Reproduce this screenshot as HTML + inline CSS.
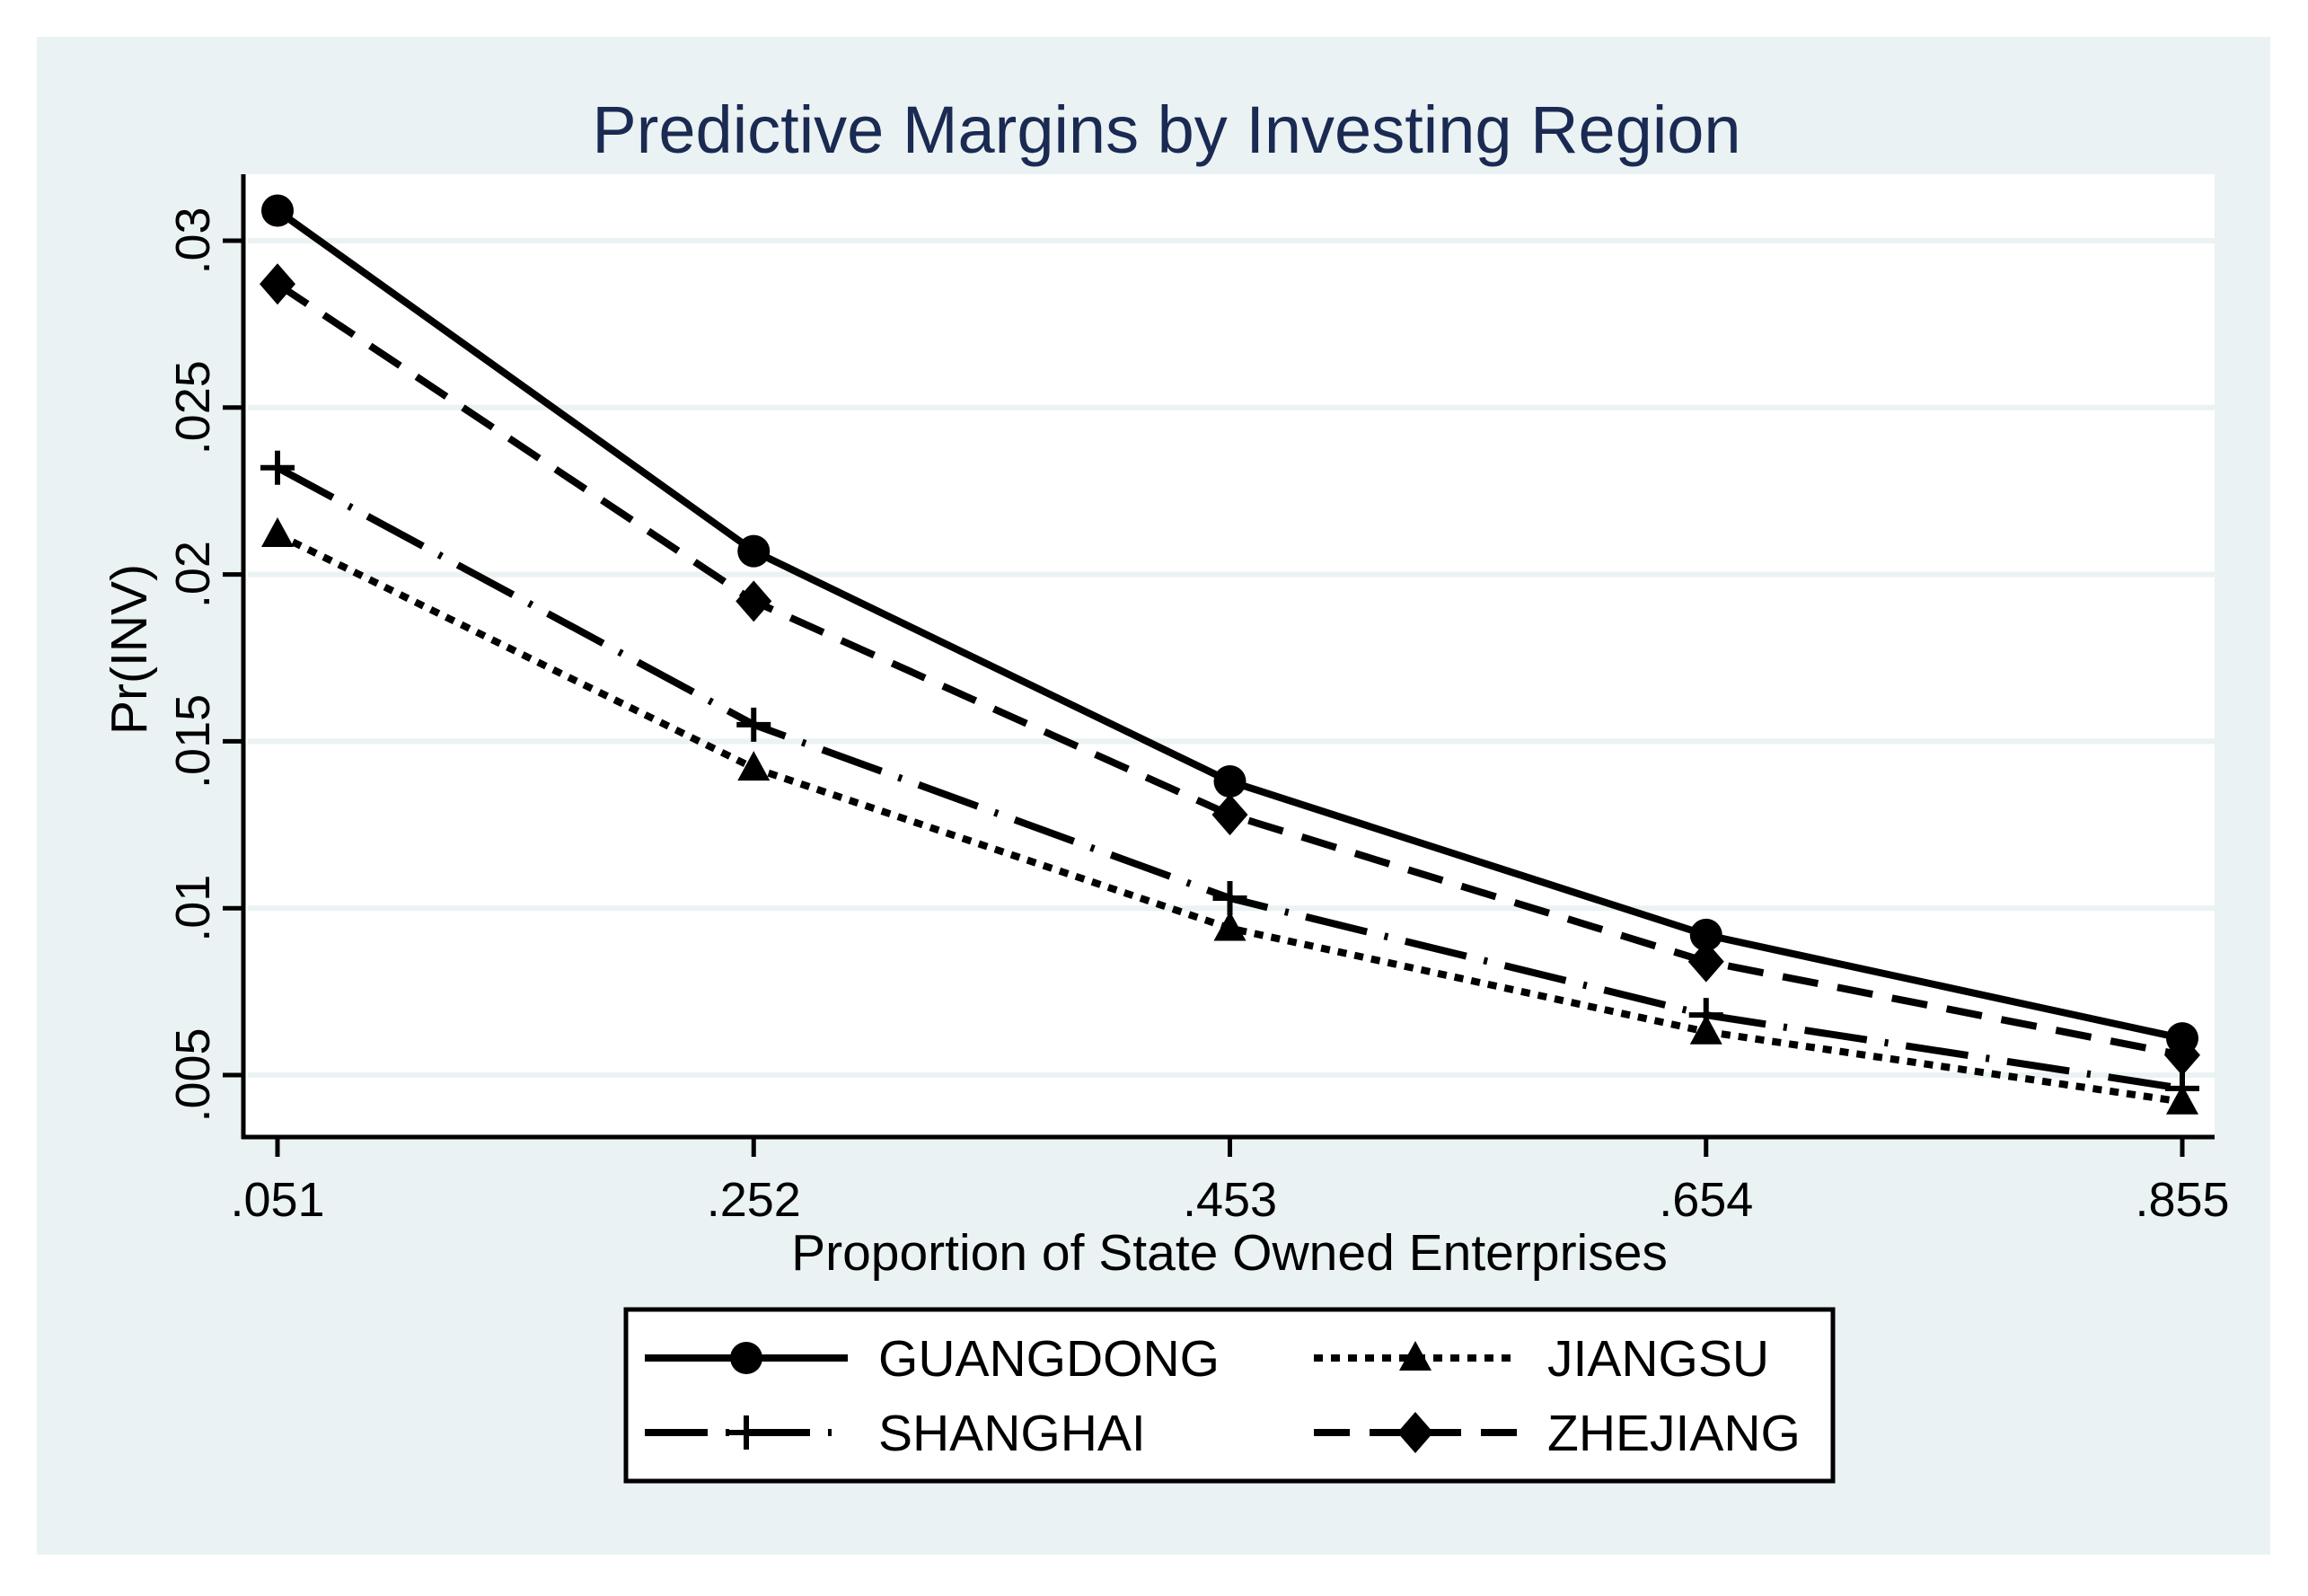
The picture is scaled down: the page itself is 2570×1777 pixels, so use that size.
<!DOCTYPE html>
<html><head><meta charset="utf-8"><style>
html,body{margin:0;padding:0;background:#fff;}
svg{display:block;font-family:"Liberation Sans",Arial,sans-serif;}
</style></head><body>
<svg id="chart" width="2570" height="1777" viewBox="0 0 2570 1777">
<rect x="0" y="0" width="2570" height="1777" fill="#ffffff"/>
<rect x="41" y="41" width="2487" height="1690" fill="#eaf2f3"/>
<rect x="271" y="194" width="2195" height="1072" fill="#ffffff"/>
<text x="1299" y="170" font-size="74" fill="#1a2a52" text-anchor="middle">Predictive Margins by Investing Region</text>
<g id="grid"></g>
<g id="axes"></g>
<g id="series"></g>
<text transform="translate(163,723) rotate(-90)" font-size="57" text-anchor="middle" fill="#000">Pr(INV)</text>
<text x="1369" y="1414" font-size="57" text-anchor="middle" fill="#000">Proportion of State Owned Enterprises</text>
<rect x="697" y="1458" width="1344" height="191" fill="#fff" stroke="#000" stroke-width="5"/>
<g id="legend"></g>
</svg>
<script>
const categories = [".051", ".252", ".453", ".654", ".855"];
const yTicks = [0.005, 0.01, 0.015, 0.02, 0.025, 0.03];
const yTickLabels = [".005", ".01", ".015", ".02", ".025", ".03"];
const seriesNames = ["GUANGDONG", "JIANGSU", "SHANGHAI", "ZHEJIANG"];
const guangdong = [0.0309, 0.0207, 0.0138, 0.0092, 0.0061];
const zhejiang = [0.0287, 0.0192, 0.0128, 0.0084, 0.0056];
const shanghai = [0.0232, 0.0155, 0.0103, 0.0068, 0.0046];
const jiangsu = [0.0212, 0.0142, 0.0094, 0.0063, 0.0042];

const NS = "http://www.w3.org/2000/svg";
function mk(tag, attrs, parent){const e=document.createElementNS(NS,tag);for(const k in attrs)e.setAttribute(k,attrs[k]);parent.appendChild(e);return e;}
const xScale = i => 309 + i*(2430-309)/(categories.length-1);
const yScale = v => 268 + (0.03 - v)/0.005*185.8;

const grid=document.getElementById('grid'), axes=document.getElementById('axes'), ser=document.getElementById('series'), leg=document.getElementById('legend');
yTicks.forEach((t,i)=>{
  const y=yScale(t);
  const g=mk('line',{x1:276,x2:2466,y1:y,y2:y,stroke:'#eaf2f3','stroke-width':6},grid);
  
  
  const tk=mk('line',{x1:248,x2:271,y1:y,y2:y,stroke:'#000','stroke-width':5},axes);
  
  
  const tx=mk('text',{transform:`translate(233,${y}) rotate(-90)`,'font-size':54,'text-anchor':'middle'},axes);
  tx.textContent=yTickLabels[i];
  
  
});
const ya=mk('line',{x1:271,x2:271,y1:194,y2:1268,stroke:'#000','stroke-width':5},axes);


const xa=mk('line',{x1:269,x2:2466,y1:1266,y2:1266,stroke:'#000','stroke-width':5},axes);


categories.forEach((c,i)=>{
  const x=xScale(i);
  const tk=mk('line',{x1:x,x2:x,y1:1266,y2:1288,stroke:'#000','stroke-width':5},axes);
  
  
  const tx=mk('text',{x:x,y:1354,'font-size':54,'text-anchor':'middle'},axes);
  tx.textContent=c;
  
  
});

function marker(type,x,y,parent){
  let m;
  if(type==='circle') m=mk('circle',{cx:x,cy:y,r:18,fill:'#000'},parent);
  else if(type==='triangle') m=mk('polygon',{points:`${x},${y-19} ${x-18},${y+14} ${x+18},${y+14}`,fill:'#000'},parent);
  else if(type==='diamond') m=mk('polygon',{points:`${x},${y-23} ${x+20},${y} ${x},${y+23} ${x-20},${y}`,fill:'#000'},parent);
  else { m=mk('path',{d:`M${x-19},${y}H${x+19}M${x},${y-19}V${y+19}`,stroke:'#000','stroke-width':6,fill:'none'},parent); }
  return m;
}
const defs=[
  {vals:jiangsu,dash:'10 9',type:'triangle',name:'jiangsu'},
  {vals:shanghai,dash:'70 20 4 20',type:'plus',name:'shanghai'},
  {vals:zhejiang,dash:'40 22',type:'diamond',name:'zhejiang'},
  {vals:guangdong,dash:'none',type:'circle',name:'guangdong'}
];
defs.forEach(d=>{
  const pts=d.vals.map((v,i)=>`${xScale(i)},${yScale(v)}`).join(' ');
  const pl=mk('polyline',{points:pts,fill:'none',stroke:'#000','stroke-width':8,'stroke-dasharray':d.dash},ser);
  
  
  d.vals.forEach((v,i)=>{
    const m=marker(d.type,xScale(i),yScale(v),ser);
    
    
  });
});
const legItems=[
  {name:'GUANGDONG',dash:'none',type:'circle',x:718,y:1512},
  {name:'JIANGSU',dash:'10 9',type:'triangle',x:1463,y:1512},
  {name:'SHANGHAI',dash:'70 20 4 20',type:'plus',x:718,y:1595},
  {name:'ZHEJIANG',dash:'40 22',type:'diamond',x:1463,y:1595}
];
legItems.forEach(it=>{
  const l=mk('line',{x1:it.x,x2:it.x+226,y1:it.y,y2:it.y,stroke:'#000','stroke-width':8,'stroke-dasharray':it.dash},leg);
  
  
  const m=marker(it.type,it.x+113,it.y,leg);
  
  
  const t=mk('text',{x:it.x+260,y:it.y+20,'font-size':57},leg);
  t.textContent=it.name;
  
  
});
</script>
</body></html>
